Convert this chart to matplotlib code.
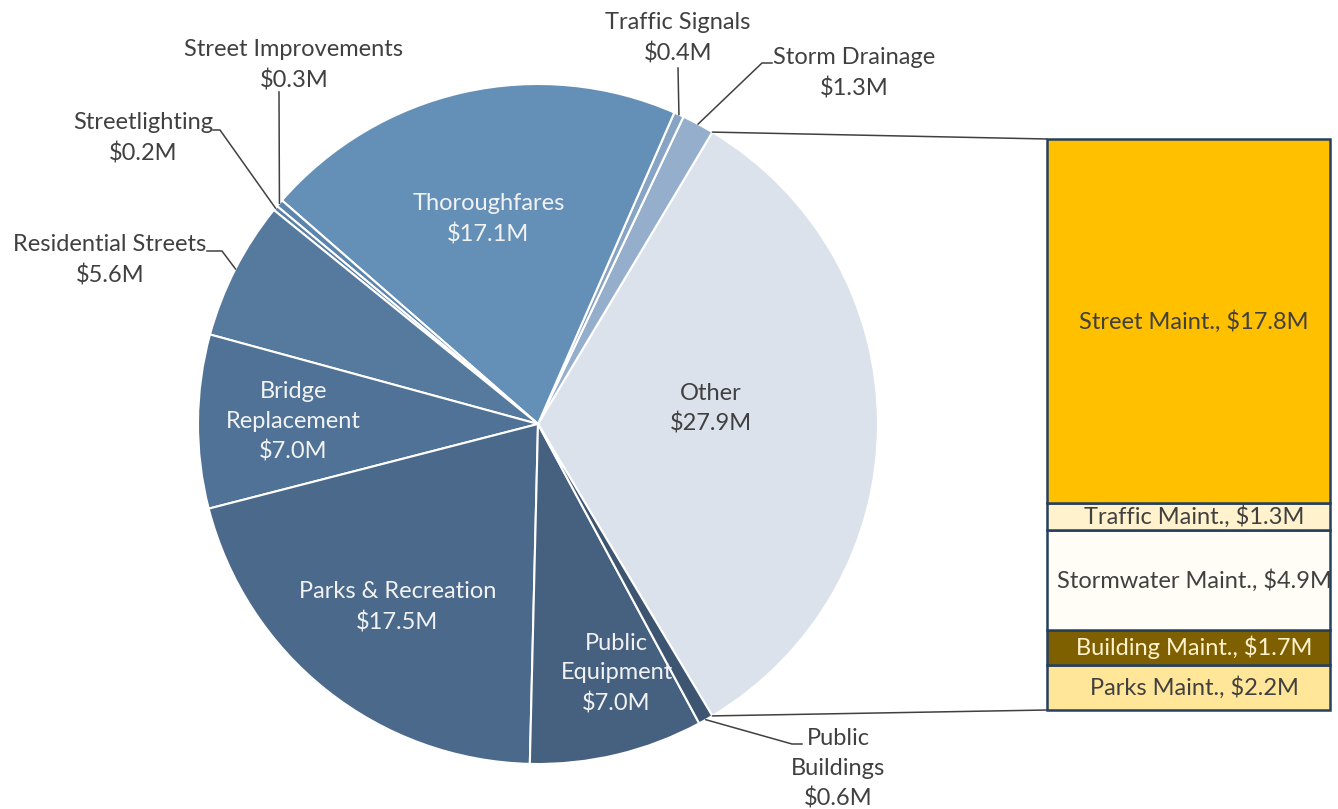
import numpy as np
import matplotlib.pyplot as plt
from matplotlib.patches import ConnectionPatch

plt.rcParams['font.family'] = ['Lato', 'DejaVu Sans']
plt.rcParams['text.parse_math'] = False

# pie slices, counter-clockwise starting with "Other" (split out to the bar)
pie_names = ['Other', 'Storm Drainage', 'Traffic Signals', 'Thoroughfares',
             'Street Improvements', 'Streetlighting', 'Residential Streets',
             'Bridge\nReplacement', 'Parks & Recreation', 'Public\nEquipment',
             'Public\nBuildings']
pie_values = [27.9, 1.3, 0.4, 17.1, 0.3, 0.2, 5.6, 7.0, 17.5, 7.0, 0.6]
pie_colors = ['#DCE2EC', '#94AECB', '#87A4C4', '#6490B8', '#5C85AD', '#5880A7',
              '#557A9E', '#4F7296', '#4A698B', '#46617F', '#3D5570']

# breakdown of "Other", bottom to top
bar_names = ['Parks Maint.', 'Building Maint.', 'Stormwater Maint.',
             'Traffic Maint.', 'Street Maint.']
bar_values = [2.2, 1.7, 4.9, 1.3, 17.8]
bar_colors = ['#FFE699', '#7F6000', '#FFFDF6', '#FFF2CC', '#FFC000']
bar_text_colors = ['#404040', '#FFF2CC', '#404040', '#404040', '#404040']

W, H = 1338, 809
CX, CY, R = 538, H - 424, 340
DARK = '#404040'
FS = 17
LS = 1.5

fig = plt.figure(figsize=(W / 100, H / 100), dpi=100)
ax = fig.add_axes([0, 0, 1, 1])

total = sum(pie_values)
start = -pie_values[0] / total * 180
wedges, _ = ax.pie(pie_values, colors=pie_colors, startangle=start,
                   center=(CX, CY), radius=R,
                   wedgeprops=dict(edgecolor='white', linewidth=1.5))
ax.set_xlim(0, W)
ax.set_ylim(0, H)
ax.set_aspect('equal')
ax.axis('off')


def edge_point(i, frac=1.0, dtheta=0.0):
    w = wedges[i]
    a = np.deg2rad((w.theta1 + w.theta2) / 2 + dtheta)
    return CX + frac * R * np.cos(a), CY + frac * R * np.sin(a)


def fmt(name, v):
    return f'{name}\n${v:.1f}M'


# labels inside the pie: index -> (radial fraction, angle shift, colour)
inside = {0: (0.51, 5, DARK), 3: (0.62, 1, '#F2F2F2'), 7: (0.72, 0, '#F2F2F2'),
          8: (0.68, 1, '#F2F2F2'), 9: (0.77, 4, '#F2F2F2')}
for i, (frac, dt, col) in inside.items():
    x, y = edge_point(i, frac, dt)
    ax.text(x, y, fmt(pie_names[i], pie_values[i]), ha='center', va='center',
            fontsize=FS, color=col, linespacing=LS)

# labels outside with leader lines: index -> (text centre, leader path after edge point)
outside = {
    2: ((678, 38), [(678, 68)]),
    1: ((854, 73), [(762, 63), (772, 63)]),
    4: ((294, 65), [(279, 92)]),
    5: ((143, 138), [(220, 130), (213, 130)]),
    6: ((110, 260), [(222, 251), (207, 251)]),
    10: ((838, 769), [(792, 744), (802, 744)]),
}
for i, ((tx, ty), path) in outside.items():
    ax.text(tx, H - ty, fmt(pie_names[i], pie_values[i]), ha='center',
            va='center', fontsize=FS, color=DARK, linespacing=LS)
    ex, ey = edge_point(i)
    xs = [ex] + [p[0] for p in path]
    ys = [ey] + [H - p[1] for p in path]
    ax.plot(xs, ys, color=DARK, lw=1.1)

# stacked bar for "Other"
bx = fig.add_axes([1047 / W, (H - 710) / H, 283 / W, 571 / H])
bottom = 0
for name, v, col, tcol in zip(bar_names, bar_values, bar_colors, bar_text_colors):
    bx.bar(0.5, v, bottom=bottom, width=1, color=col, edgecolor='#25405E',
           linewidth=1.8, clip_on=False)
    bx.text(0.52, bottom + v / 2, f'{name}, ${v:.1f}M', ha='center',
            va='center', fontsize=FS, color=tcol, clip_on=False)
    bottom += v
bx.set_xlim(0, 1)
bx.set_ylim(0, sum(bar_values))
bx.axis('off')

# connector lines from the "Other" slice to the bar
w0 = wedges[0]
for theta, yb in [(w0.theta2, 1), (w0.theta1, 0)]:
    a = np.deg2rad(theta)
    con = ConnectionPatch(xyA=(CX + R * np.cos(a), CY + R * np.sin(a)),
                          coordsA=ax.transData, xyB=(0, yb),
                          coordsB=bx.transAxes, color=DARK, lw=1.1)
    fig.add_artist(con)

fig.savefig('out.png', dpi=100)
